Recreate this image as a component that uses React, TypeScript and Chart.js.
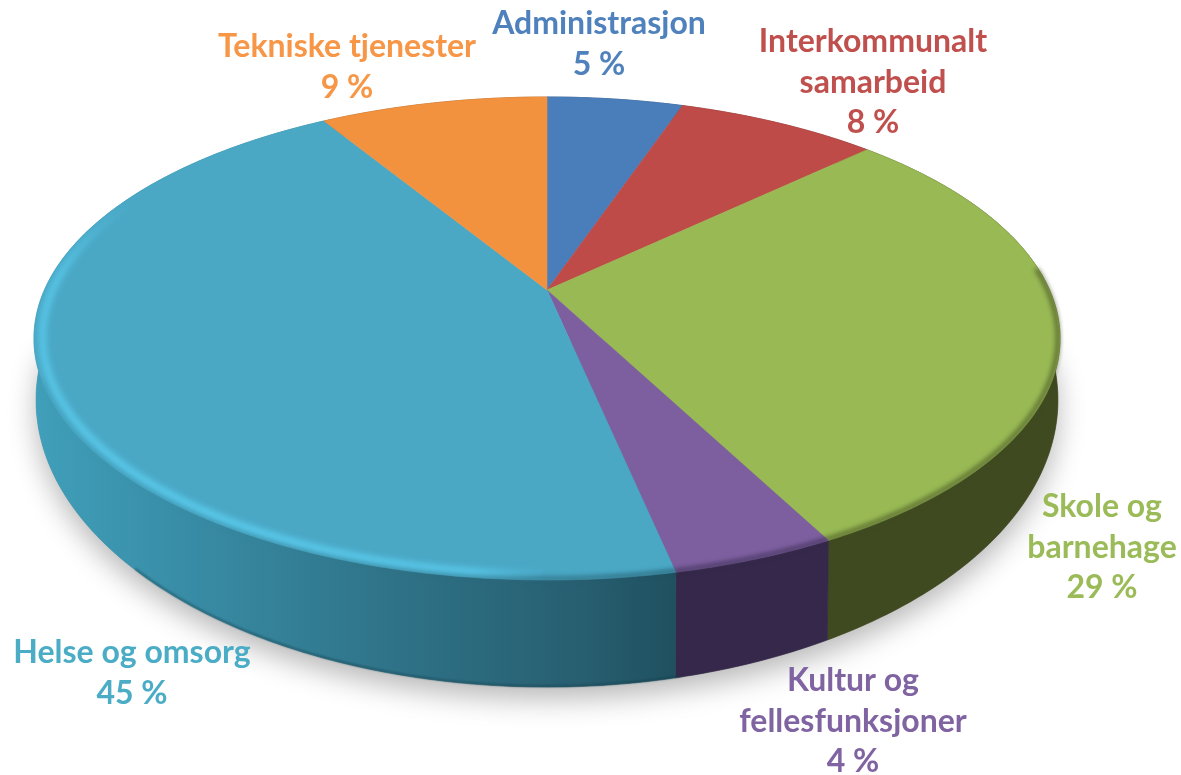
import React, { useEffect, useRef } from "react";
import { Chart, registerables } from "chart.js";

Chart.register(...registerables);

const categories = [
  ["Administrasjon"],
  ["Interkommunalt", "samarbeid"],
  ["Skole og", "barnehage"],
  ["Kultur og", "fellesfunksjoner"],
  ["Helse og omsorg"],
  ["Tekniske tjenester"],
];
// Shares read from the slice boundaries; the printed labels are these, rounded.
const shares = [5.2, 7.7, 29.49, 4.31, 44.6, 8.7];
const percentLabels = ["5 %", "8 %", "29 %", "4 %", "45 %", "9 %"];

const faceColors = ["#4A7EBB", "#BE4B48", "#98B954", "#7D5FA0", "#4AA8C5", "#F2923F"];
const sideColors = ["#2C4A70", "#70302E", "#3F4A20", "#35284A", "#2A6F86", "#94561F"];
const textColors = ["#4F81BD", "#C0504D", "#9BBB59", "#8064A2", "#4BACC6", "#F79646"];
const labelCenters = [
  [599, 24],
  [873, 42],
  [1102, 507],
  [853, 681],
  [132, 653],
  [347, 47],
];
const lineGap = 40.5;

// Perspective of the disc, relative to the pie centre and radius.
const K = 0.2008;
const top = { a: 1.733, b: 0.7993, dy: 0 };
const bottom = { a: 1.726, b: 0.9498, dy: 0.1807 };

type P = { x: number; y: number };
function project(el: any, theta: number, f: { a: number; b: number; dy: number }, rf = 1): P {
  const r = el.outerRadius;
  const u = Math.sin(theta) * rf;
  const v = Math.cos(theta) * rf;
  const d = 1 + K * v;
  return { x: el.x + (f.a * r * u) / d, y: el.y + f.dy * r - (f.b * r * v) / d };
}
function rim(el: any, a0: number, a1: number, f: any, rf = 1): P[] {
  const n = Math.max(2, Math.ceil(Math.abs(a1 - a0) / 0.01));
  const pts: P[] = [];
  for (let i = 0; i <= n; i++) pts.push(project(el, a0 + ((a1 - a0) * i) / n, f, rf));
  return pts;
}
function trace(ctx: CanvasRenderingContext2D, pts: P[], move = true) {
  pts.forEach((p, i) => (i === 0 && move ? ctx.moveTo(p.x, p.y) : ctx.lineTo(p.x, p.y)));
}

const pie3d = {
  id: "pie3d",
  beforeDatasetsDraw(chart: any) {
    const ctx: CanvasRenderingContext2D = chart.ctx;
    const arcs = chart.getDatasetMeta(0).data;
    const range = (el: any) => [el.startAngle + Math.PI / 2, el.endAngle + Math.PI / 2];
    const e0 = arcs[0];

    const sideGrad = ctx.createLinearGradient(35, 0, 680, 0);
    sideGrad.addColorStop(0, "#409FBA");
    sideGrad.addColorStop(0.25, "#388BA4");
    sideGrad.addColorStop(0.55, "#2F7388");
    sideGrad.addColorStop(0.85, "#275E70");
    sideGrad.addColorStop(1, "#1F505F");
    const sideFill = (i: number) => (i === 4 ? sideGrad : sideColors[i]);

    // soft shadow under the disc
    ctx.save();
    ctx.shadowColor = "rgba(0,0,0,0.28)";
    ctx.shadowBlur = 28;
    ctx.shadowOffsetY = 12;
    ctx.fillStyle = "#888";
    ctx.beginPath();
    trace(ctx, rim(e0, Math.PI * 0.5, Math.PI * 1.5, bottom));
    ctx.closePath();
    ctx.fill();
    ctx.restore();

    // side walls
    arcs.forEach((el: any, i: number) => {
      const [a0, a1] = range(el);
      ctx.beginPath();
      trace(ctx, rim(el, a0, a1, top));
      trace(ctx, rim(el, a1, a0, bottom), false);
      ctx.closePath();
      ctx.fillStyle = sideFill(i);
      ctx.strokeStyle = sideFill(i);
      ctx.lineWidth = 0.6;
      ctx.fill();
      ctx.stroke();
    });

    // dark lower edge of the wall
    ctx.save();
    ctx.filter = "blur(1px)";
    ctx.beginPath();
    trace(ctx, rim(e0, Math.PI * 0.93, Math.PI * 1.25, bottom, 0.998));
    ctx.strokeStyle = "rgba(20,60,72,0.7)";
    ctx.lineWidth = 1.4;
    ctx.stroke();
    ctx.restore();

    // top faces
    arcs.forEach((el: any, i: number) => {
      const [a0, a1] = range(el);
      ctx.save();
      ctx.filter = "blur(0.5px)";
      ctx.beginPath();
      ctx.moveTo(el.x, el.y);
      trace(ctx, rim(el, a0, a1, top), false);
      ctx.closePath();
      ctx.fillStyle = faceColors[i];
      ctx.strokeStyle = faceColors[i];
      ctx.lineWidth = 0.6;
      ctx.fill();
      ctx.stroke();
      ctx.restore();
    });

    // soft bevel where the face turns into the wall
    arcs.forEach((el: any, i: number) => {
      const [a0, a1] = range(el);
      const from = Math.max(a0, Math.PI * 0.47);
      const to = Math.min(a1, Math.PI * 1.38);
      if (to <= from) return;
      ctx.save();
      ctx.filter = "blur(2.5px)";
      ctx.beginPath();
      trace(ctx, rim(el, from, to, top, 0.996));
      ctx.strokeStyle = sideFill(i);
      ctx.lineWidth = 3;
      ctx.stroke();
      ctx.restore();
    });

    // bright rim on the large slice
    const hl = arcs[4];
    const [h0, h1] = range(hl);
    const conic = ctx.createConicGradient(0, hl.x, hl.y + 48);
    conic.addColorStop(0, "rgba(92,205,240,0)");
    conic.addColorStop(0.25, "rgba(92,205,240,0)");
    conic.addColorStop(0.3, "rgba(92,205,240,0.9)");
    conic.addColorStop(0.42, "rgba(92,205,240,1)");
    conic.addColorStop(0.52, "rgba(92,205,240,0.8)");
    conic.addColorStop(0.55, "rgba(92,205,240,0)");
    conic.addColorStop(1, "rgba(92,205,240,0)");
    ctx.save();
    ctx.beginPath();
    ctx.moveTo(hl.x, hl.y);
    trace(ctx, rim(hl, h0, h1, top), false);
    ctx.closePath();
    ctx.clip();
    ctx.filter = "blur(3px)";
    ctx.beginPath();
    trace(ctx, rim(hl, h0, h1, top, 0.984));
    ctx.strokeStyle = conic;
    ctx.lineWidth = 7;
    ctx.stroke();
    ctx.restore();

    // labels
    ctx.save();
    ctx.filter = "blur(0.4px)";
    ctx.font = "bold 32px Lato";
    ctx.textAlign = "center";
    ctx.textBaseline = "middle";
    categories.forEach((lines, i) => {
      ctx.fillStyle = textColors[i];
      [...lines, percentLabels[i]].forEach((t, j) => {
        ctx.fillText(t, labelCenters[i][0], labelCenters[i][1] + j * lineGap);
      });
    });
    ctx.restore();
    return false;
  },
};

export default function App() {
  const ref = useRef<HTMLCanvasElement>(null);
  useEffect(() => {
    const chart = new Chart(ref.current!, {
      type: "pie",
      data: {
        labels: categories.map((c) => c.join(" ")),
        datasets: [{ data: shares, backgroundColor: faceColors, borderWidth: 0 }],
      },
      options: {
        responsive: false,
        animation: false,
        layout: { padding: { left: 0, right: 87, top: 0, bottom: 195 } },
        plugins: { legend: { display: false }, tooltip: { enabled: false } },
      },
      plugins: [pie3d],
    } as any);
    return () => chart.destroy();
  }, []);
  return (
    <canvas
      ref={ref}
      width={1181}
      height={775}
      style={{ position: "fixed", left: 0, top: 0, width: 1181, height: 775, background: "#fff" }}
    />
  );
}
